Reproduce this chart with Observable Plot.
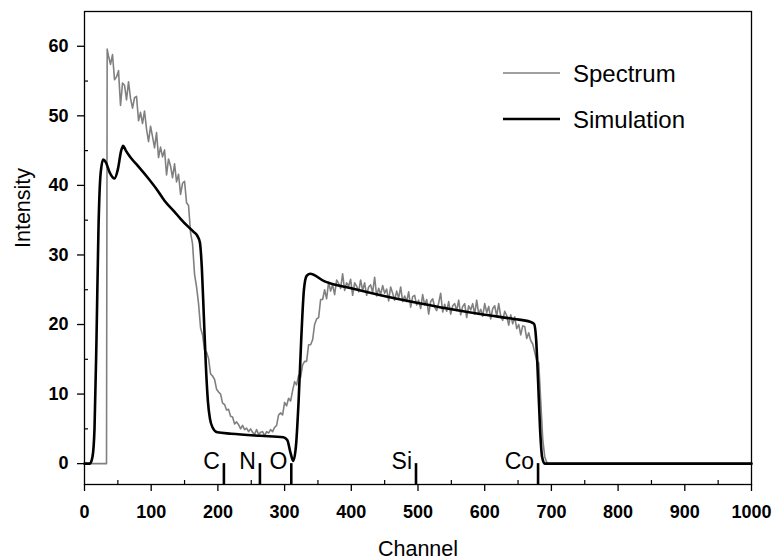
<!DOCTYPE html>
<html><head><meta charset="utf-8">
<script src="https://cdn.jsdelivr.net/npm/d3@7"></script>
<script src="https://cdn.jsdelivr.net/npm/@observablehq/plot@0.6"></script>
<style>
html,body{margin:0;padding:0;background:#fff;}
</style></head><body><div id="chart"></div>
<script>
// ---------- data ----------
const spectrumLeadChannels = [0, 33, 34];
const spectrumLeadCounts = [0, 0, 59.6];
const spectrumStart = 36;
const spectrumStep = 3;
const spectrumCounts = [
  // 36-150
  58.6,57.4,58.8,55.2,55.6,56.5,51.5,54.7,54.4,52.3,
  54.9,52.5,51.1,52.6,52.8,49.3,50.5,48.9,50.7,48.1,
  46.3,48.5,47.0,45.4,47.6,44.0,45.5,44.1,45.1,41.5,
  43.8,42.8,41.1,43.1,40.5,41.6,38.7,40.3,40.6,
  // 153-192
  37.5,37.1,33.2,31.6,27.2,25.4,23.0,19.5,18.5,16.3,16.0,15.1,12.9,12.6,
  // 195-285
  12.1,10.7,10.3,10.0,8.7,8.5,7.7,7.8,6.8,6.7,
  5.7,6.0,5.6,5.0,5.5,4.9,5.1,4.6,5.0,4.5,
  4.2,4.9,4.2,4.5,4.6,4.0,4.6,4.4,4.9,4.6,
  5.2,
  // 288-357
  5.5,7.0,7.3,7.0,8.8,8.3,9.4,9.0,10.5,11.8,
  11.3,12.7,12.4,14.2,14.7,14.7,17.1,17.1,17.8,20.0,
  20.8,21.0,23.6,23.6,
  // 360-669
  25.0,23.7,26.1,24.8,25.7,24.3,26.4,25.9,25.2,27.3,
  24.9,26.0,25.5,26.5,24.2,26.0,25.5,24.7,26.4,24.9,
  26.0,24.2,25.4,25.7,24.6,26.8,24.1,25.2,24.3,25.6,
  24.5,25.1,23.4,25.4,24.5,23.5,24.8,23.8,25.4,23.3,
  24.1,23.3,24.7,22.5,24.0,24.2,22.8,23.5,22.3,24.3,
  22.8,23.6,21.5,23.3,23.7,22.5,22.0,23.1,24.5,21.8,
  22.9,21.9,23.3,21.5,22.7,23.0,22.0,23.5,21.4,22.6,
  23.0,21.0,22.7,22.1,23.0,21.5,23.5,21.5,22.2,21.2,
  23.0,21.7,22.6,20.8,22.3,22.7,21.2,23.0,21.2,20.6,
  21.9,21.3,19.9,21.4,20.1,21.1,19.4,20.0,18.5,19.8,
  19.7,18.0,18.8,17.7,
  // 672-699
  17.2,16.0,14.8,14.5,9.0,3.5,1.0,0.2,0,0
];
const spectrumTailChannels = [1000];
const spectrumTailCounts = [0];

const simulationChannels = [0,8,12,15,18,21,24,28,32,38,45,50,55,58,62,70,80,94,110,120,
  135,144,155,164,170,173,176,179,182,185,188,192,199,220,264,298,304,309,313,317,
  321,325,329,333,338,360,400,444,500,544,600,644,668,674,677,680,683,686,690,1000];
const simulationCounts = [0,0,1,5,18,34,41.5,43.7,43.3,41.8,41.0,42.3,45.0,45.7,45.0,43.9,42.8,41.2,39.2,37.8,
  36.2,35.2,34.1,33.3,32.6,31.8,28,21,14,9,6.5,5.2,4.5,4.3,4.0,3.8,3.4,1.5,0.4,2.5,
  9,18,25,27.0,27.3,26.2,25.2,24.2,23.1,22.3,21.4,20.8,20.4,20.1,18,12,5,1,0,0];

const elementNames = ["C", "N", "O", "Si", "Co"];
const elementChannels = [209, 263, 310, 497, 680];

const xMajorTicks = [0,100,200,300,400,500,600,700,800,900,1000];
const xMinorTicks = [50,150,250,350,450,550,650,750,850,950];
const yMajorTicks = [0,10,20,30,40,50,60];
const yMinorTicks = [5,15,25,35,45,55];
const seriesNames = ["Spectrum", "Simulation"];
const xTitle = "Channel";
const yTitle = "Intensity";

// ---------- tables ----------
const spectrum = [];
spectrumLeadChannels.forEach((c, i) => spectrum.push({channel: c, counts: spectrumLeadCounts[i]}));
spectrumCounts.forEach((v, i) => spectrum.push({channel: spectrumStart + i * spectrumStep, counts: v}));
spectrumTailChannels.forEach((c, i) => spectrum.push({channel: c, counts: spectrumTailCounts[i]}));
const simulation = simulationChannels.map((c, i) => ({channel: c, counts: simulationCounts[i]}));
const elements = elementNames.map((n, i) => ({name: n, channel: elementChannels[i]}));

// ---------- chart ----------
const font = '"Liberation Sans", Arial, Helvetica, sans-serif';
const W = 779, H = 560, mL = 84, mR = 28, mT = 11, mB = 76;
const frameW = W - mL - mR, frameH = H - mT - mB;

const chart = Plot.plot({
  width: W, height: H,
  marginLeft: mL, marginRight: mR, marginTop: mT, marginBottom: mB,
  style: {fontFamily: font, background: "white", color: "black"},
  x: {domain: [0, 1000]},
  y: {domain: [-3, 65]},
  marks: [
    Plot.line(spectrum, {x: "channel", y: "counts", stroke: "#808080", strokeWidth: 1.6}),
    Plot.line(simulation, {x: "channel", y: "counts", stroke: "black", strokeWidth: 2.6, curve: "monotone-x"}),
    Plot.ruleX(elements, {x: "channel", y1: 0, y2: -3, stroke: "black", strokeWidth: 2.6}),
    Plot.text(elements, {x: "channel", y: 0, text: "name", textAnchor: "end", lineAnchor: "bottom",
      dx: -4, dy: 5, fontSize: 23}),
    Plot.frame({stroke: "black", strokeWidth: 1.3}),
    Plot.ruleX(xMinorTicks, {x: d => d, insetTop: frameH - 4, stroke: "black", strokeWidth: 1.2}),
    Plot.ruleY(yMinorTicks, {y: d => d, insetRight: frameW - 4, stroke: "black", strokeWidth: 1.2}),
    Plot.axisX({ticks: xMajorTicks, tickSize: 7, tickPadding: 14, fontSize: 18, fontWeight: "bold",
      label: null, tickFormat: d => String(d), strokeWidth: 1.3}),
    Plot.axisY({ticks: yMajorTicks, tickSize: 7, tickPadding: 9, fontSize: 18, fontWeight: "bold",
      label: null, tickFormat: d => String(d), strokeWidth: 1.3}),
    Plot.text([xTitle], {text: d => d, frameAnchor: "bottom", dy: 71, lineAnchor: "bottom", fontSize: 21.5}),
    Plot.text([yTitle], {text: d => d, frameAnchor: "left", rotate: -90, dx: -54.5, lineAnchor: "bottom", fontSize: 21.5})
  ]
});

// ---------- legend ----------
const svg = d3.select(chart);
const legend = svg.append("g").attr("font-family", font).attr("font-size", 24).attr("text-anchor", "start");
const legendStyles = [{stroke: "#808080", width: 1.6, y: 73}, {stroke: "black", width: 2.6, y: 119}];
seriesNames.forEach((name, i) => {
  const s = legendStyles[i];
  legend.append("line").attr("x1", 503).attr("x2", 560).attr("y1", s.y).attr("y2", s.y)
    .attr("stroke", s.stroke).attr("stroke-width", s.width);
  legend.append("text").attr("x", 573).attr("y", s.y + 8.5).attr("fill", "black")
    .attr("text-anchor", "start").text(name);
});

document.getElementById("chart").appendChild(chart);
</script>
</body></html>
